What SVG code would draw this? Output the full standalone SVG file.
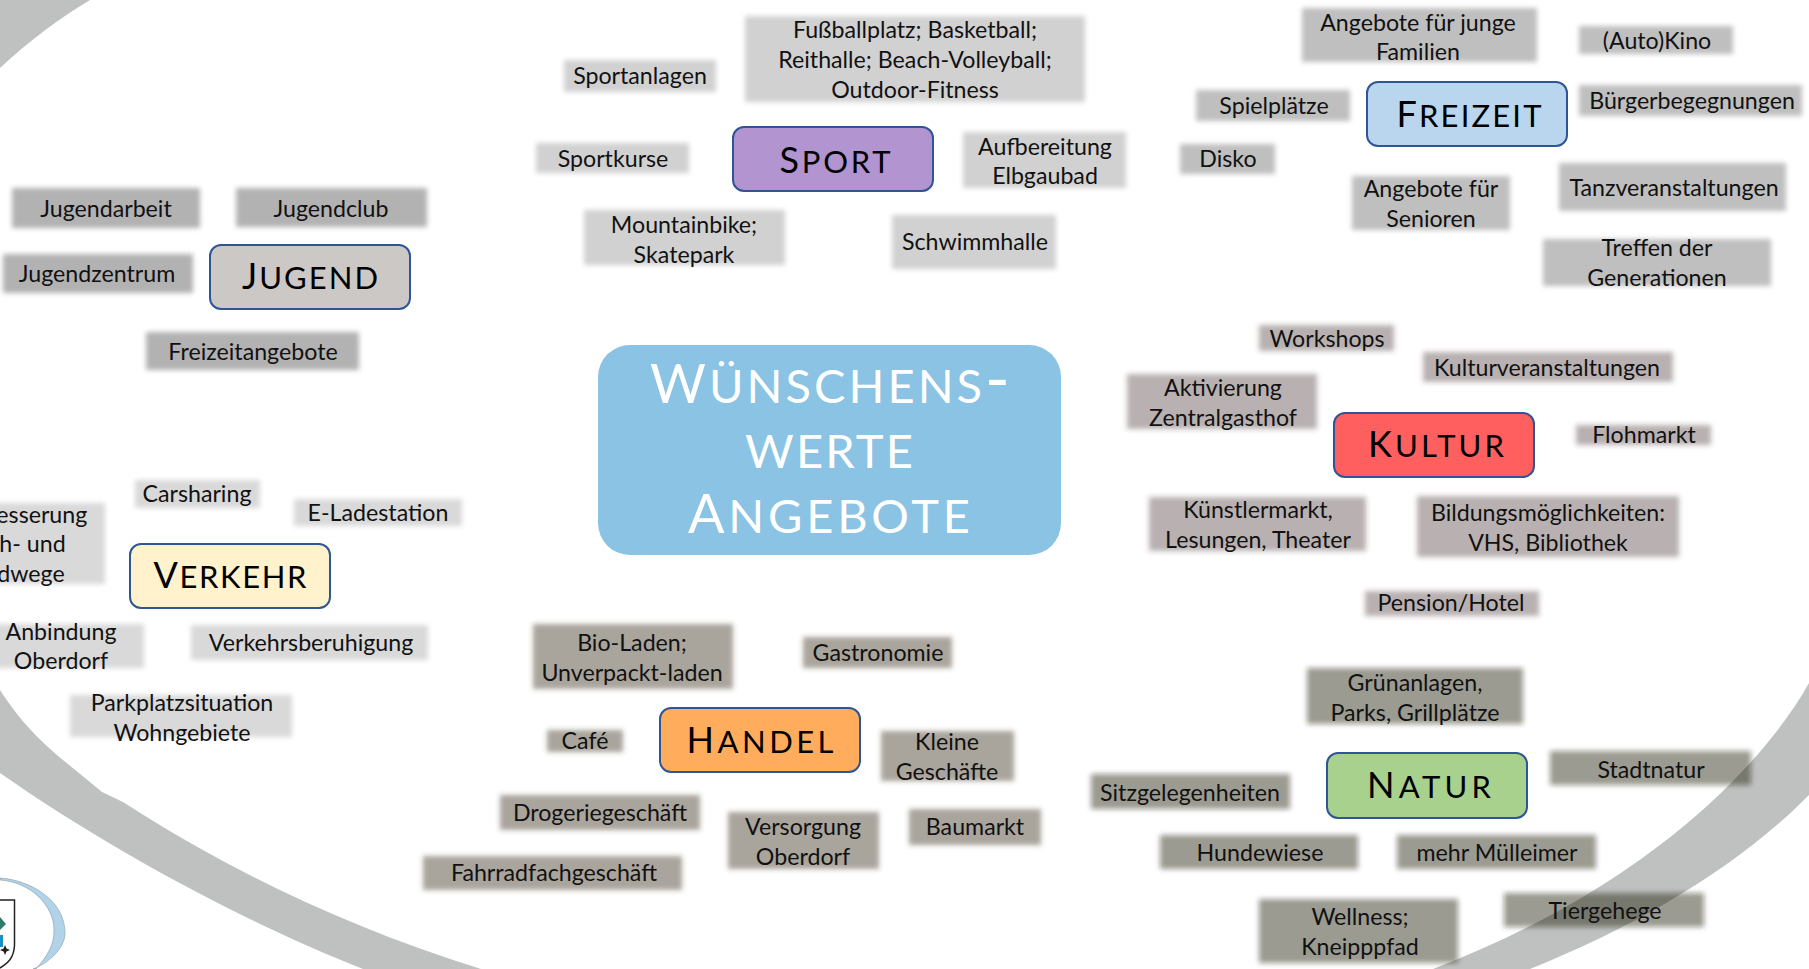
<svg xmlns="http://www.w3.org/2000/svg" width="1809" height="969" viewBox="0 0 1809 969">
<defs>
<style>
text{font-family:"Lato","Liberation Sans",sans-serif;text-anchor:middle;fill:#111}
.t{font-size:23.2px}
.h{fill:#000;font-size:36px}
.h .s{font-size:44px;font-variant:small-caps}
.c{fill:#fff;font-size:54px}
.c .s{font-size:67px;font-variant:small-caps}
.b{stroke:#2F5597;stroke-width:2}
.a{fill:#000;fill-opacity:.18}
.j{fill:#000;fill-opacity:.30}
.f{fill:#000;fill-opacity:.25}
.v{fill:#000;fill-opacity:.15}
.k{fill:#443535;fill-opacity:.38}
.d{fill:#3E3528;fill-opacity:.45}
.n{fill:#10150C;fill-opacity:.43}
rect.a,rect.j,rect.f,rect.v,rect.k,rect.d,rect.n{filter:url(#soft)}
</style>
<filter id="soft" x="-15%" y="-40%" width="130%" height="180%"><feGaussianBlur stdDeviation="2.4"/></filter>
</defs>
<rect width="1809" height="969" fill="#fff"/>
<g id="swoosh" fill="#BFC1C0">
<path d="M0,0H90C60,18 30,40 0,68Z"/>
<path d="M0,690C30,737 60,757 102,792L123,802C220,865 340,925 481,969H363C250,925 110,850 0,773Z"/>
<path d="M1809,683C1760,770 1640,890 1433,969H1530C1640,925 1740,865 1809,795Z"/>
</g>
<g id="logo">
<path d="M0,878C30,880 65,900 65,933C65,950 45,965 33,969H36C48,955 54,945 54,930C54,905 30,882 0,880Z" fill="#B0D3EA" stroke="#8A9AA5" stroke-width=".6"/>
<path d="M0,900H14.500V945C14,958 8,963 0,968" fill="none" stroke="#222" stroke-width="1.5"/>
<path d="M0,917L6,924L0,930Z" fill="#2E7D6B"/>
<path d="M0,935H3V947H0Z" fill="#1B8FC0"/>
<path d="M5,945L6.500,948.500L10,950L6.500,951.500L5,955L3.500,951.500L0,950L3.500,948.500Z" fill="#222"/>
</g>
<g id="center">
<rect x="598" y="345" width="463" height="210" rx="32" fill="#8AC3E3"/>
<text class="c" x="830" y="403" textLength="360"><tspan>W</tspan><tspan class="s">ünschens-</tspan></text>
<text class="c" x="829" y="468" textLength="168"><tspan class="s">werte</tspan></text>
<text class="c" x="829" y="533" textLength="282"><tspan>A</tspan><tspan class="s">ngebote</tspan></text>
</g>
<g id="sport">
<rect class="b" x="733" y="127" width="200" height="64" rx="11" fill="#B294D0"/>
<text class="h" x="835" y="173" textLength="111"><tspan>S</tspan><tspan class="s">port</tspan></text>
</g>
<g id="jugend">
<rect class="b" x="210" y="245" width="200" height="64" rx="11" fill="#CCC8C5"/>
<text class="h" x="310" y="289" textLength="136"><tspan>J</tspan><tspan class="s">ugend</tspan></text>
</g>
<g id="freizeit">
<rect class="b" x="1367" y="82" width="200" height="64" rx="11" fill="#BAD5EE"/>
<text class="h" x="1469" y="127" textLength="145"><tspan>F</tspan><tspan class="s">reizeit</tspan></text>
</g>
<g id="kultur">
<rect class="b" x="1334" y="413" width="200" height="64" rx="11" fill="#FF5F5F"/>
<text class="h" x="1436" y="457" textLength="136"><tspan>K</tspan><tspan class="s">ultur</tspan></text>
</g>
<g id="verkehr">
<rect class="b" x="130" y="544" width="200" height="64" rx="11" fill="#FFF2CC"/>
<text class="h" x="230" y="588" textLength="153"><tspan>V</tspan><tspan class="s">erkehr</tspan></text>
</g>
<g id="handel">
<rect class="b" x="660" y="708" width="200" height="64" rx="11" fill="#FFAD5C"/>
<text class="h" x="760" y="753" textLength="147"><tspan>H</tspan><tspan class="s">andel</tspan></text>
</g>
<g id="natur">
<rect class="b" x="1327" y="753" width="200" height="65" rx="11" fill="#A9D18E"/>
<text class="h" x="1429" y="798" textLength="124"><tspan>N</tspan><tspan class="s">atur</tspan></text>
</g>
<g id="s1"><rect class="a" x="745" y="16" width="340" height="86"/><text class="t" x="915" y="38">Fußballplatz; Basketball;</text><text class="t" x="915" y="68">Reithalle; Beach-Volleyball;</text><text class="t" x="915" y="98">Outdoor-Fitness</text></g>
<g id="s2"><rect class="a" x="564" y="60" width="152" height="32"/><text class="t" x="640" y="84">Sportanlagen</text></g>
<g id="s3"><rect class="a" x="536" y="143" width="153" height="30"/><text class="t" x="613" y="167">Sportkurse</text></g>
<g id="s4"><rect class="a" x="963" y="132" width="163" height="56"/><text class="t" x="1045" y="155">Aufbereitung</text><text class="t" x="1045" y="184">Elbgaubad</text></g>
<g id="s5"><rect class="a" x="584" y="210" width="201" height="55"/><text class="t" x="684" y="233">Mountainbike;</text><text class="t" x="684" y="263">Skatepark</text></g>
<g id="s6"><rect class="a" x="892" y="215" width="164" height="54"/><text class="t" x="975" y="250">Schwimmhalle</text></g>
<g id="f1"><rect class="f" x="1302" y="8" width="235" height="54"/><text class="t" x="1418" y="31">Angebote für junge</text><text class="t" x="1418" y="60">Familien</text></g>
<g id="f2"><rect class="f" x="1579" y="26" width="154" height="28"/><text class="t" x="1657" y="49">(Auto)Kino</text></g>
<g id="f3"><rect class="f" x="1196" y="90" width="154" height="31"/><text class="t" x="1274" y="114">Spielplätze</text></g>
<g id="f4"><rect class="f" x="1579" y="85" width="223" height="31"/><text class="t" x="1692" y="109">Bürgerbegegnungen</text></g>
<g id="f5"><rect class="f" x="1180" y="144" width="95" height="30"/><text class="t" x="1228" y="167">Disko</text></g>
<g id="f6"><rect class="f" x="1352" y="176" width="158" height="54"/><text class="t" x="1431" y="197">Angebote für</text><text class="t" x="1431" y="227">Senioren</text></g>
<g id="f7"><rect class="f" x="1559" y="163" width="227" height="48"/><text class="t" x="1674" y="196">Tanzveranstaltungen</text></g>
<g id="f8"><rect class="f" x="1543" y="239" width="228" height="47"/><text class="t" x="1657" y="256">Treffen der</text><text class="t" x="1657" y="286">Generationen</text></g>
<g id="j1"><rect class="j" x="12" y="188" width="188" height="40"/><text class="t" x="106" y="217">Jugendarbeit</text></g>
<g id="j2"><rect class="j" x="236" y="188" width="191" height="39"/><text class="t" x="331" y="217">Jugendclub</text></g>
<g id="j3"><rect class="j" x="3" y="254" width="190" height="39"/><text class="t" x="97" y="282">Jugendzentrum</text></g>
<g id="j4"><rect class="j" x="146" y="332" width="213" height="38"/><text class="t" x="253" y="360">Freizeitangebote</text></g>
<g id="k1"><rect class="k" x="1259" y="325" width="135" height="26"/><text class="t" x="1327" y="347">Workshops</text></g>
<g id="k2"><rect class="k" x="1423" y="352" width="250" height="30"/><text class="t" x="1547" y="376">Kulturveranstaltungen</text></g>
<g id="k3"><rect class="k" x="1127" y="374" width="190" height="55"/><text class="t" x="1223" y="396">Aktivierung</text><text class="t" x="1223" y="426">Zentralgasthof</text></g>
<g id="k4"><rect class="k" x="1576" y="425" width="135" height="20"/><text class="t" x="1644" y="443">Flohmarkt</text></g>
<g id="k5"><rect class="k" x="1149" y="497" width="217" height="54"/><text class="t" x="1258" y="518">Künstlermarkt,</text><text class="t" x="1258" y="548">Lesungen, Theater</text></g>
<g id="k6"><rect class="k" x="1417" y="496" width="262" height="61"/><text class="t" x="1548" y="521">Bildungsmöglichkeiten:</text><text class="t" x="1548" y="551">VHS, Bibliothek</text></g>
<g id="k7"><rect class="k" x="1365" y="591" width="174" height="25"/><text class="t" x="1451" y="611">Pension/Hotel</text></g>
<g id="v1"><rect class="v" x="135" y="480" width="125" height="28"/><text class="t" x="197" y="502">Carsharing</text></g>
<g id="v2"><rect class="v" x="294" y="499" width="168" height="27"/><text class="t" x="378" y="521">E-Ladestation</text></g>
<g id="v3"><rect class="v" x="-8" y="503" width="113" height="81"/><text class="t" x="18" y="523">Verbesserung</text><text class="t" x="18" y="552">Geh- und</text><text class="t" x="18" y="582">Radwege</text></g>
<g id="v4"><rect class="v" x="-8" y="624" width="152" height="44"/><text class="t" x="61" y="640">Anbindung</text><text class="t" x="61" y="669">Oberdorf</text></g>
<g id="v5"><rect class="v" x="191" y="625" width="237" height="35"/><text class="t" x="311" y="651">Verkehrsberuhigung</text></g>
<g id="v6"><rect class="v" x="70" y="695" width="222" height="42"/><text class="t" x="182" y="711">Parkplatzsituation</text><text class="t" x="182" y="741">Wohngebiete</text></g>
<g id="d1"><rect class="d" x="533" y="624" width="200" height="65"/><text class="t" x="632" y="651">Bio-Laden;</text><text class="t" x="632" y="681">Unverpackt-laden</text></g>
<g id="d2"><rect class="d" x="803" y="637" width="149" height="31"/><text class="t" x="878" y="661">Gastronomie</text></g>
<g id="d3"><rect class="d" x="547" y="730" width="76" height="22"/><text class="t" x="585" y="749">Café</text></g>
<g id="d4"><rect class="d" x="881" y="731" width="133" height="50"/><text class="t" x="947" y="750">Kleine</text><text class="t" x="947" y="780">Geschäfte</text></g>
<g id="d5"><rect class="d" x="500" y="795" width="200" height="35"/><text class="t" x="600" y="821">Drogeriegeschäft</text></g>
<g id="d6"><rect class="d" x="728" y="812" width="151" height="57"/><text class="t" x="803" y="835">Versorgung</text><text class="t" x="803" y="865">Oberdorf</text></g>
<g id="d7"><rect class="d" x="909" y="809" width="132" height="36"/><text class="t" x="975" y="835">Baumarkt</text></g>
<g id="d8"><rect class="d" x="423" y="856" width="259" height="34"/><text class="t" x="554" y="881">Fahrradfachgeschäft</text></g>
<g id="n1"><rect class="n" x="1307" y="668" width="216" height="56"/><text class="t" x="1415" y="691">Grünanlagen,</text><text class="t" x="1415" y="721">Parks, Grillplätze</text></g>
<g id="n2"><rect class="n" x="1550" y="751" width="201" height="34"/><text class="t" x="1651" y="778">Stadtnatur</text></g>
<g id="n3"><rect class="n" x="1091" y="774" width="199" height="35"/><text class="t" x="1190" y="801">Sitzgelegenheiten</text></g>
<g id="n4"><rect class="n" x="1160" y="835" width="198" height="34"/><text class="t" x="1260" y="861">Hundewiese</text></g>
<g id="n5"><rect class="n" x="1397" y="835" width="199" height="34"/><text class="t" x="1497" y="861">mehr Mülleimer</text></g>
<g id="n6"><rect class="n" x="1504" y="893" width="200" height="34"/><text class="t" x="1605" y="919">Tiergehege</text></g>
<g id="n7"><rect class="n" x="1259" y="899" width="199" height="64"/><text class="t" x="1360" y="925">Wellness;</text><text class="t" x="1360" y="955">Kneipppfad</text></g>
</svg>
